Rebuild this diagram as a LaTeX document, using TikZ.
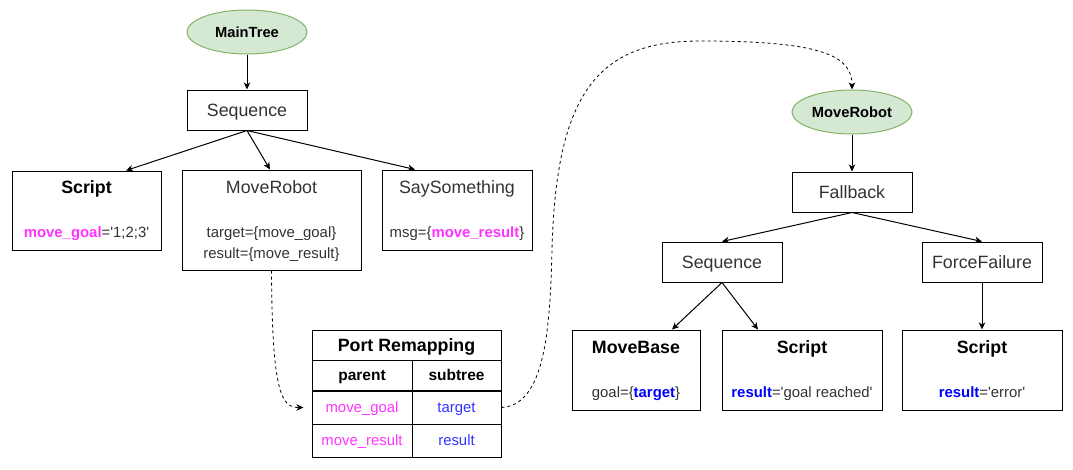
\documentclass[tikz,border=0pt]{standalone}
\usepackage{fontspec}
\setmainfont{Liberation Sans}
\usepackage{tikz}
\usetikzlibrary{arrows.meta, shapes.geometric}
\definecolor{portpink}{HTML}{FF33FF}
\definecolor{portblue}{HTML}{0000FF}
\definecolor{cellblue}{HTML}{3333FF}
\definecolor{treefill}{HTML}{D5E8D4}
\definecolor{treeline}{HTML}{82B366}
\tikzset{
    >={Stealth[length=7pt,width=6.5pt,inset=2pt]},
    framebox/.style={draw=black, line width=1pt, inner sep=0pt},
    bigtext/.style={text height=14.6pt, text depth=1.9pt, font=\fontsize{17.8}{21}\selectfont},
    smalltext/.style={text height=12.2pt, text depth=1.6pt, font=\fontsize{14.9}{17}\selectfont},
    ctrlbox/.style={framebox, bigtext, minimum width=120pt, minimum height=40pt, text=black!80},
    treenode/.style={ellipse, draw=treeline, fill=treefill, line width=1pt, inner sep=0pt, minimum width=120pt, minimum height=44pt, text height=12.1pt, text depth=1.6pt, font=\fontsize{14.7}{17}\selectfont\bfseries},
    boldtitle/.style={inner sep=0pt, bigtext, font=\fontsize{17.8}{21}\selectfont\bfseries},
    plaintitle/.style={inner sep=0pt, bigtext, text=black!80},
    porttext/.style={inner sep=0pt, smalltext, text=black!80},
    tablecell/.style={framebox, smalltext, minimum height=33pt},
    tablehead/.style={framebox, minimum height=30pt, text height=12.6pt, text depth=1.8pt, font=\fontsize{15.5}{18}\selectfont\bfseries},
    treelink/.style={->, line width=1pt},
    remaplink/.style={->, line width=0.8pt, dash pattern=on 3pt off 3pt}}

\begin{document}
\begin{tikzpicture}[x=1pt, y=-1pt]

    \useasboundingbox (0,0) rectangle (1073,469);

    \node[treenode] (mainTree) at (247,32) {MainTree};
    \node[ctrlbox] (seqMain) at (247,110) {Sequence};

    \node[framebox, minimum width=149pt, minimum height=79pt] (scriptGoal) at (86.5,210.5) {};
    \node[boldtitle] (scriptGoalName) at (86.5,187) {Script};
    \node[porttext] (scriptGoalPort) at (86.5,232) {\textbf{\color{portpink}move\_goal}=\textquotesingle 1;2;3\textquotesingle};

    \node[framebox, minimum width=179pt, minimum height=100pt] (moveRobot) at (271.5,220) {};
    \node[plaintitle] (moveRobotName) at (271.5,187) {MoveRobot};
    \node[porttext] (moveRobotTarget) at (271.5,232) {target=\{move\_goal\}};
    \node[porttext] (moveRobotResult) at (271.5,253) {result=\{move\_result\}};

    \node[framebox, minimum width=150pt, minimum height=80pt] (saySomething) at (457,210) {};
    \node[plaintitle] (saySomethingName) at (457,187) {SaySomething};
    \node[porttext] (saySomethingMsg) at (457,232) {msg=\{\textbf{\color{portpink}move\_result}\}};

    \node[framebox, bigtext, minimum width=189pt, minimum height=30pt, font=\fontsize{17.8}{21}\selectfont\bfseries] (remapTitle) at (406.5,345) {Port Remapping};
    \node[tablehead, minimum width=100pt] (remapParent) at (362,375) {parent};
    \node[tablehead, minimum width=89pt] (remapSubtree) at (456.5,375) {subtree};
    \node[tablecell, minimum width=100pt, text=portpink] (remapGoal) at (362,407.5) {move\_goal};
    \node[tablecell, minimum width=89pt, text=cellblue] (remapTarget) at (456.5,407.5) {target};
    \node[tablecell, minimum width=100pt, text=portpink] (remapResult) at (362,440.5) {move\_result};
    \node[tablecell, minimum width=89pt, text=cellblue] (remapRes) at (456.5,440.5) {result};

    \node[treenode] (moveRobotTree) at (852,112) {MoveRobot};
    \node[ctrlbox] (fallback) at (852,192) {Fallback};
    \node[ctrlbox] (seqSub) at (722,262) {Sequence};
    \node[ctrlbox] (forceFailure) at (982,262) {ForceFailure};

    \node[framebox, minimum width=128pt, minimum height=80pt] (moveBase) at (636,370) {};
    \node[boldtitle] (moveBaseName) at (636,347) {MoveBase};
    \node[porttext] (moveBaseGoal) at (636,392) {goal=\{\textbf{\color{portblue}target}\}};

    \node[framebox, minimum width=160pt, minimum height=80pt] (scriptReached) at (802,370) {};
    \node[boldtitle] (scriptReachedName) at (802,347) {Script};
    \node[porttext] (scriptReachedPort) at (802,392) {\textbf{\color{portblue}result}=\textquotesingle goal reached\textquotesingle};

    \node[framebox, minimum width=160pt, minimum height=80pt] (scriptError) at (982,370) {};
    \node[boldtitle] (scriptErrorName) at (982,347) {Script};
    \node[porttext] (scriptErrorPort) at (982,392) {\textbf{\color{portblue}result}=\textquotesingle error\textquotesingle};

    \draw[treelink] (mainTree) -- (seqMain);
    \draw[treelink] (seqMain.south) -- ([xshift=39.5pt]scriptGoal.north);
    \draw[treelink] (seqMain.south) -- ([xshift=-1.5pt]moveRobot.north);
    \draw[treelink] (seqMain.south) -- ([xshift=-42pt]saySomething.north);

    \draw[treelink] (moveRobotTree) -- (fallback);
    \draw[treelink] (fallback.south) -- (seqSub.north);
    \draw[treelink] (fallback.south) -- (forceFailure.north);
    \draw[treelink] (seqSub.south) -- ([xshift=36pt]moveBase.north);
    \draw[treelink] (seqSub.south) -- ([xshift=-44pt]scriptReached.north);
    \draw[treelink] (forceFailure) -- (scriptError);

    \draw[remaplink] (moveRobot.south) .. controls (272,395) and (282,407.5) .. ([xshift=-8pt]remapGoal.west);
    \draw[remaplink] (remapTarget.east) .. controls (545,405) and (550,330) .. (552,250)
        .. controls (556,90) and (600,41) .. (700,41)
        .. controls (820,41) and (852,55) .. (moveRobotTree.north);

\end{tikzpicture}
\end{document}
